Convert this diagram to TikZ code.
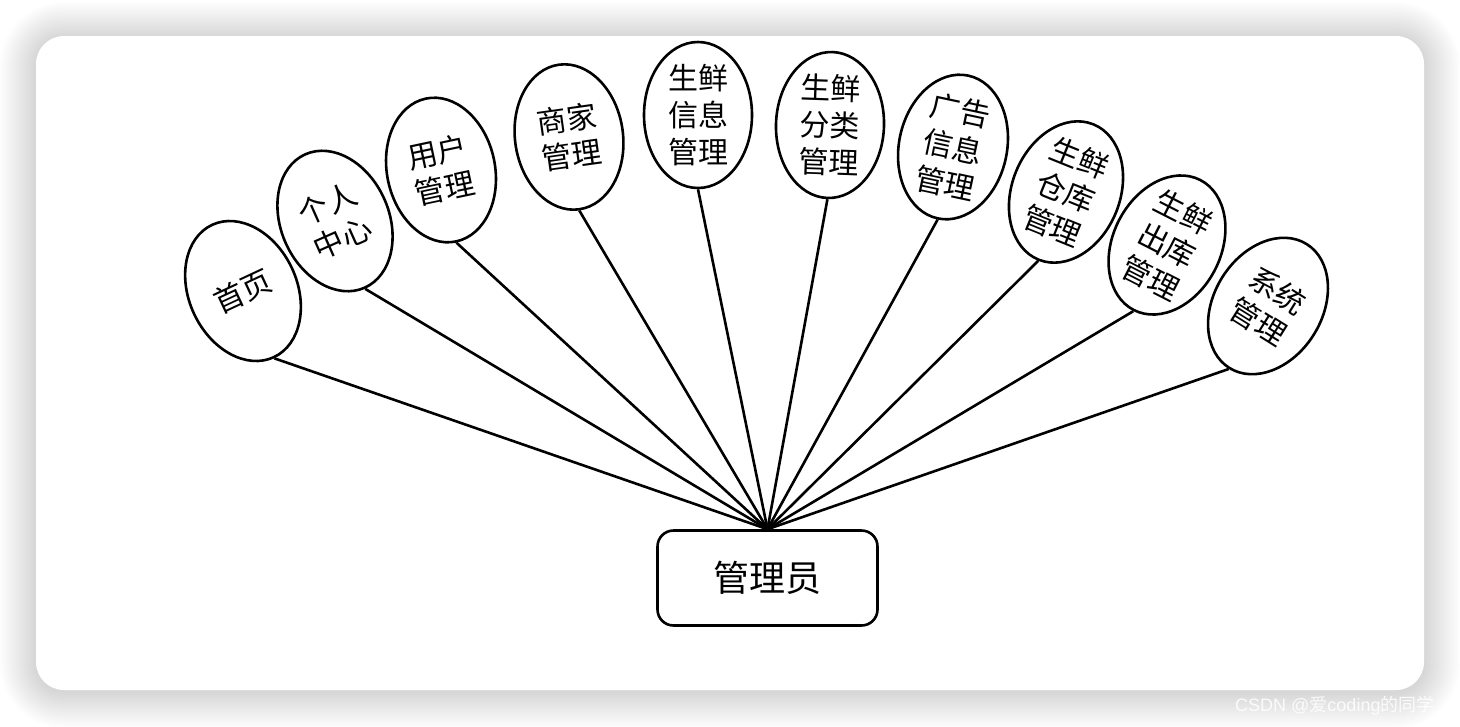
\documentclass[tikz,border=0pt]{standalone}
\usepackage{fontspec}
\newfontfamily\cjk{Noto Sans CJK SC}
\newfontfamily\wmlatin{Liberation Sans}
\usetikzlibrary{shapes.geometric}
\begin{document}
\begin{tikzpicture}[x=1pt,y=-1pt,
  ell/.style={draw=black, line width=2.6pt, ellipse, minimum width=108pt, minimum height=146pt, inner sep=0pt, fill=white},
  lbl/.style={font=\cjk\fontsize{30}{37}\selectfont, align=center, inner sep=0pt, text=black},
  conn/.style={line width=2.6pt, draw=black},
  hubbox/.style={draw=black, line width=2.6pt, rounded corners=16pt, minimum width=220pt, minimum height=95pt, fill=white, font=\cjk\fontsize{36}{40}\selectfont, inner sep=0pt}
]
\useasboundingbox (0,0) rectangle (1460,726);
\fill[white] (0,0) rectangle (1460,726);
% shadow
\foreach \i in {1,...,20}{
  \pgfmathsetmacro\r{28+1.8*\i}
  \pgfmathsetmacro\d{1.8*\i}
  \fill[black, opacity=0.0095, rounded corners=\r pt] (36-\d,36-\d+2) rectangle (1424+\d,690+\d+2);
}
% card
\fill[white, rounded corners=28pt] (36,36) rectangle (1424,690);
% watermark
\node[anchor=west, text=white, opacity=0.85, font=\fontsize{18}{18}\selectfont, inner sep=0pt] (wm) at (1235,706) {\wmlatin CSDN @\cjk 爱\wmlatin coding\cjk 的同学};

% hub
\node[hubbox] (hub) at (767.5,578) {管理员};

% ellipses
\foreach \n/\x/\y/\a in {e1/243/291/25, e2/335/221/24, e3/441/170/12, e4/569/137/8, e5/698/115/0, e6/830/125/-2, e7/953/147/-12, e8/1066/192/-22, e9/1167/245/-27, e10/1268/306/-32}{
  \node[ell, rotate=\a] (\n) at (\x,\y) {};
}
\foreach \n in {e1,e2,e3,e4,e5,e6,e7,e8,e9,e10}{
  \draw[conn] (\n.south) -- (hub.north);
}
\node[lbl, rotate=25] at (e1.center) {首页};
\node[lbl, rotate=24] at (e2.center) {个人\\中心};
\node[lbl, rotate=12] at (e3.center) {用户\\管理};
\node[lbl, rotate=8] at (e4.center) {商家\\管理};
\node[lbl, rotate=0] at (e5.center) {生鲜\\信息\\管理};
\node[lbl, rotate=-2] at (e6.center) {生鲜\\分类\\管理};
\node[lbl, rotate=-12] at (e7.center) {广告\\信息\\管理};
\node[lbl, rotate=-22] at (e8.center) {生鲜\\仓库\\管理};
\node[lbl, rotate=-27] at (e9.center) {生鲜\\出库\\管理};
\node[lbl, rotate=-32] at (e10.center) {系统\\管理};
\end{tikzpicture}
\end{document}
